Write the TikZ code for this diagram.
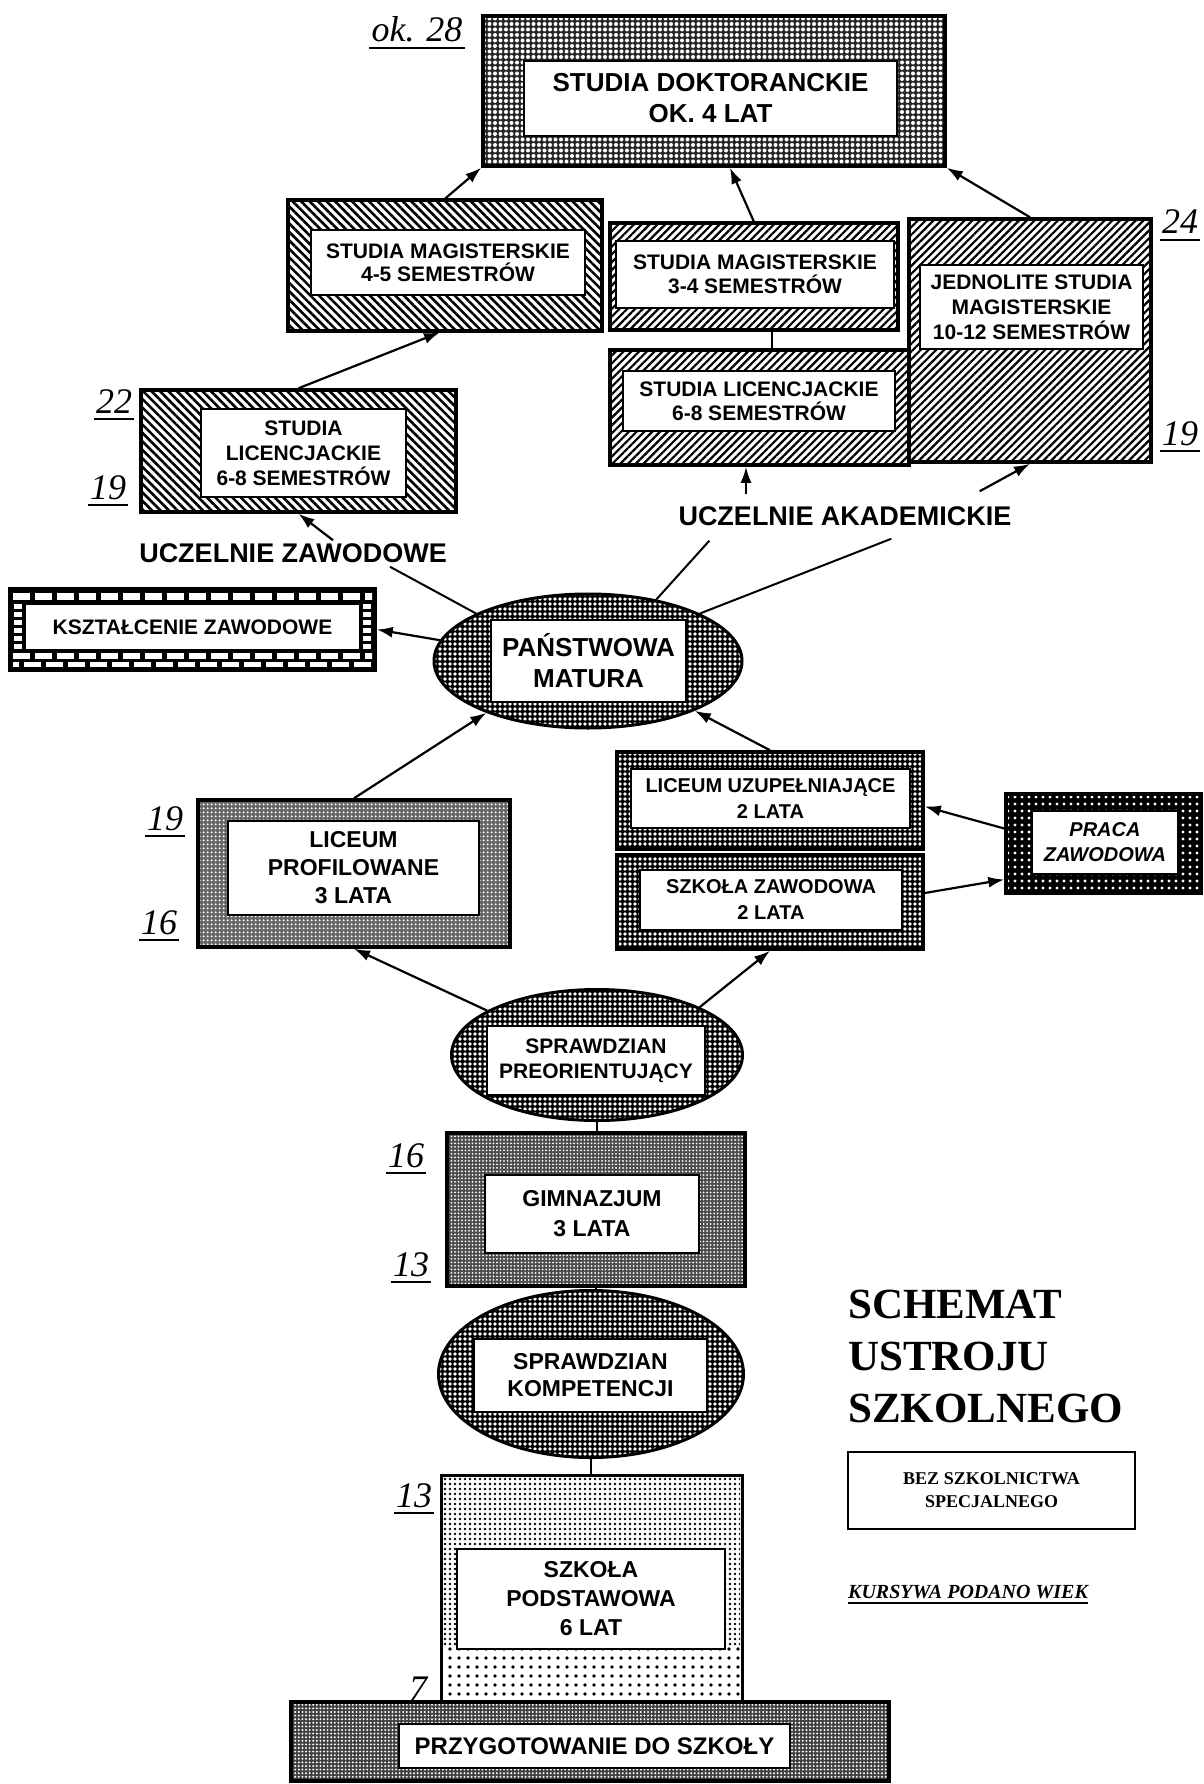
\documentclass[tikz,border=0pt]{standalone}
\usepackage{fontspec}
\setmainfont{Liberation Serif}
\newfontfamily\sansf{Liberation Sans}
\usetikzlibrary{shapes.geometric,patterns.meta,arrows.meta,calc}
\newcommand\bfs[2]{\sansf\bfseries\fontsize{#1}{#2}\selectfont}
\tikzset{
  frame/.style={rectangle, draw=black, line width=3.5pt, inner sep=0pt},
  ell/.style={ellipse, draw=black, line width=3pt, inner sep=0pt},
  inbox/.style={rectangle, draw=black, line width=1.2pt, fill=white, inner sep=0pt, align=center},
  meshA/.style={preaction={fill=black}, pattern={Dots[distance=5pt,radius=1.8pt]}, pattern color=white},
  meshDok/.style={preaction={fill=black!85}, pattern={Dots[distance=5.5pt,radius=2pt]}, pattern color=white},
  meshGray/.style={preaction={fill=black!60}, pattern={Dots[distance=4pt,radius=1.3pt]}, pattern color=white},
  meshGim/.style={preaction={fill=black!70}, pattern={Dots[distance=3.5pt,radius=1pt]}, pattern color=white},
  meshPraca/.style={preaction={fill=black}, pattern={Dots[distance=7pt,radius=1.6pt]}, pattern color=white},
  meshPrz/.style={preaction={fill=black!75}, pattern={Dots[distance=3.6pt,radius=1.1pt]}, pattern color=white},
  hatchNW/.style={pattern={Lines[angle=-45,distance=6pt,line width=2.6pt]}, pattern color=black},
  hatchNE/.style={pattern={Lines[angle=45,distance=5.5pt,line width=2.2pt]}, pattern color=black},
  arr/.style={line width=2.2pt, -{Latex[length=16pt,width=11pt]}},
  con/.style={line width=2pt},
  lab/.style={inner sep=0pt, font=\bfs{27}{30}},
  age/.style={inner sep=0pt, anchor=base, font=\itshape\fontsize{36}{40}\selectfont},
  ul/.style={line width=2.5pt},
}
\newcommand\agelab[4]{\node[age] (#1) at (#2,#3) {#4};
  \draw[ul] ($(#1.base west)+(-2,6)$) -- ($(#1.base east)+(2,6)$);}
\begin{document}
\begin{tikzpicture}[x=1pt,y=-1pt]
\fill[white] (0,0) rectangle (1203,1784);
\useasboundingbox (0,0) rectangle (1203,1784);

% ---- doctoral
\node[frame, meshDok, minimum width=462pt, minimum height=150pt] (dok) at (714,91) {};
\node[inbox, minimum width=373pt, minimum height=75pt, font=\bfs{26}{31}] (dokI) at (710.5,98.5) {STUDIA DOKTORANCKIE\\OK. 4 LAT};

% ---- master 4-5
\node[frame, hatchNW, minimum width=314pt, minimum height=131pt] (mag45) at (445,265.5) {};
\node[inbox, minimum width=274pt, minimum height=65pt, font=\bfs{21}{23}] (mag45I) at (448,262.5) {STUDIA MAGISTERSKIE\\4-5 SEMESTRÓW};

% ---- master 3-4
\node[frame, hatchNE, minimum width=288pt, minimum height=107pt] (mag34) at (754,276.5) {};
\node[inbox, minimum width=278pt, minimum height=67pt, font=\bfs{21}{24}] (mag34I) at (755,274.5) {STUDIA MAGISTERSKIE\\3-4 SEMESTRÓW};

% ---- jednolite
\node[frame, hatchNE, minimum width=242pt, minimum height=243pt] (jedn) at (1030,340.5) {};
\node[inbox, minimum width=223pt, minimum height=84pt, font=\bfs{21}{25}] (jednI) at (1031.5,307) {JEDNOLITE STUDIA\\MAGISTERSKIE\\10-12 SEMESTRÓW};

% ---- licencjackie right
\node[frame, hatchNE, minimum width=299pt, minimum height=115pt] (licR) at (759.5,407.5) {};
\node[inbox, minimum width=272pt, minimum height=60pt, font=\bfs{21}{24}] (licRI) at (759,401) {STUDIA LICENCJACKIE\\6-8 SEMESTRÓW};

% ---- licencjackie left
\node[frame, hatchNW, minimum width=315pt, minimum height=122pt] (licL) at (298.5,451) {};
\node[inbox, minimum width=205pt, minimum height=88pt, font=\bfs{21}{25}] (licLI) at (303.5,453) {STUDIA\\LICENCJACKIE\\6-8 SEMESTRÓW};

% ---- ksztalcenie zawodowe (bricks)
\node[frame, fill=black, minimum width=365pt, minimum height=81pt] (ksz) at (192.5,629.5) {};
\begin{scope}
  \clip (13,592) rectangle (372,667);
  \foreach \x in {0,22,...,374} {
    \fill[white] (13+\x,593) rectangle (30+\x,600);
    \fill[white] (13+\x,653) rectangle (30+\x,659);
    \fill[white] (2+\x,662) rectangle (19+\x,667);
  }
  \foreach \y in {604,612,...,648} {
    \fill[white] (14,\y) rectangle (22,\y+5);
    \fill[white] (363,\y) rectangle (371,\y+5);
  }
\end{scope}
\node[inbox, minimum width=335pt, minimum height=46pt, font=\bfs{21}{24}] (kszI) at (192.5,627) {KSZTAŁCENIE ZAWODOWE};

% ---- matura
\node[ell, meshA, minimum width=308pt, minimum height=134pt] (mat) at (588,661) {};
\node[inbox, minimum width=195pt, minimum height=82pt, font=\bfs{26}{31}] (matI) at (588.5,661) {PAŃSTWOWA\\MATURA};

% ---- liceum profilowane
\node[frame, meshGray, minimum width=312pt, minimum height=147pt] (licP) at (354,873.5) {};
\node[inbox, minimum width=251pt, minimum height=94pt, font=\bfs{23}{28}] (licPI) at (353.5,868) {LICEUM\\PROFILOWANE\\3 LATA};

% ---- liceum uzupelniajace
\node[frame, meshA, minimum width=306pt, minimum height=97pt] (licU) at (770,800.5) {};
\node[inbox, minimum width=279pt, minimum height=59pt, font=\bfs{20}{26}] (licUI) at (770.5,798.5) {LICEUM UZUPEŁNIAJĄCE\\2 LATA};

% ---- szkola zawodowa
\node[frame, meshA, minimum width=306pt, minimum height=94pt] (szkZ) at (770,902) {};
\node[inbox, minimum width=262pt, minimum height=60pt, font=\bfs{20}{26}] (szkZI) at (771,900) {SZKOŁA ZAWODOWA\\2 LATA};

% ---- praca zawodowa
\node[frame, meshPraca, minimum width=195pt, minimum height=99pt] (praca) at (1103.5,843.5) {};
\node[inbox, minimum width=146pt, minimum height=63pt, font={\bfs{20}{25}\itshape}] (pracaI) at (1105,842.5) {PRACA\\ZAWODOWA};

% ---- sprawdzian preorientujacy
\node[ell, meshA, minimum width=291pt, minimum height=131pt] (spP) at (597,1055) {};
\node[inbox, minimum width=218pt, minimum height=69pt, font=\bfs{21}{25}] (spPI) at (596,1060.5) {SPRAWDZIAN\\PREORIENTUJĄCY};

% ---- gimnazjum
\node[frame, meshGim, minimum width=298pt, minimum height=153pt] (gim) at (596,1209.5) {};
\node[inbox, minimum width=214pt, minimum height=78pt, font=\bfs{23}{30}] (gimI) at (592,1214) {GIMNAZJUM\\3 LATA};

% ---- sprawdzian kompetencji
\node[ell, meshA, minimum width=305pt, minimum height=167pt] (spK) at (591,1374) {};
\node[inbox, minimum width=233pt, minimum height=73pt, font=\bfs{23}{27}] (spKI) at (590.5,1375.5) {SPRAWDZIAN\\KOMPETENCJI};

% ---- szkola podstawowa
\path[pattern={Dots[distance=5pt,radius=1.3pt]}, pattern color=black] (443,1477) rectangle (740,1645);
\path[pattern={Dots[distance=9pt,radius=1.9pt]}, pattern color=black] (443,1645) rectangle (740,1706);
\node[frame, line width=3pt, minimum width=301pt, minimum height=233pt] (szP) at (591.5,1591.5) {};
\node[inbox, minimum width=268pt, minimum height=100pt, font=\bfs{23}{29}] (szPI) at (591,1599) {SZKOŁA\\PODSTAWOWA\\6 LAT};

% ---- przygotowanie
\node[frame, meshPrz, minimum width=598pt, minimum height=79pt] (prz) at (590,1741.5) {};
\node[inbox, minimum width=391pt, minimum height=44pt, font=\bfs{24}{28}] (przI) at (594.5,1746) {PRZYGOTOWANIE DO SZKOŁY};

% ---- labels
\node[lab] (ua) at (845,516) {UCZELNIE AKADEMICKIE};
\node[lab] (uz) at (293,553) {UCZELNIE ZAWODOWE};

% ---- connectors
\draw[arr] (mag45.north) -- (dok.south west);
\draw[arr] (mag34.north) -- ([xshift=16pt]dok.south);
\draw[arr] (jedn.north) -- (dok.south east);
\draw[arr] (licL.north) -- ([xshift=-5pt]mag45.south);
\draw[con] ([xshift=18pt]mag34.south) -- ([xshift=18pt]mag34.south |- licR.north);

\draw[con] (mat.42) -- ($(ua.south west)+(31,15)$);
\draw[con] (mat.23) -- ($(ua.south west)+(213,13)$);
\coordinate (uaL) at ([xshift=-99pt,yshift=12pt]ua.north);
\draw[arr] (uaL) -- (uaL |- licR.south);
\draw[arr] ([xshift=-32pt,yshift=15pt]ua.north east) -- (jedn.south);

\draw[arr] ([xshift=40pt,yshift=3pt]uz.north) -- (licL.south);
\draw[con] (mat.157) -- ([xshift=97pt,yshift=-4pt]uz.south);

\draw[arr] (mat.172) -- (ksz.east);
\draw[arr] (licP.north) -- (mat.207);
\draw[arr] (licU.north) -- (mat.-25);
\draw[arr] ([yshift=15pt]praca.west) -- ([yshift=-6pt]licU.east);
\draw[arr] ([yshift=9pt]szkZ.east) -- ([yshift=-36pt]praca.west);
\draw[arr] (spP.158) -- (licP.south);
\draw[arr] (spP.25) -- (szkZ.south);
\draw[con] (spP.south) -- (spP.south |- gim.north);
\draw[con] (gim.south) -- (gim.south |- spK.north);
\draw[con] (spK.south) -- (spK.south |- szP.north);

% ---- ages
\agelab{a28}{417}{42}{ok. 28}
\agelab{a24}{1180}{234}{24}
\agelab{a19r}{1180}{445}{19}
\agelab{a22}{114}{413}{22}
\agelab{a19l}{108}{499}{19}
\agelab{a19p}{165}{830}{19}
\agelab{a16p}{159}{934}{16}
\agelab{a16g}{406}{1167}{16}
\agelab{a13g}{411}{1276}{13}
\agelab{a13s}{414}{1507}{13}
\node[age] (a7) at (418,1700) {7};

% ---- legend
\node[anchor=north west, align=left, inner sep=0pt, font=\bfseries\fontsize{43}{52}\selectfont] (title) at (848,1290) {SCHEMAT\\USTROJU\\SZKOLNEGO};
\node[rectangle, draw=black, line width=2pt, minimum width=287pt, minimum height=77pt, align=center, inner sep=0pt, font=\bfseries\fontsize{18}{23}\selectfont] (bez) at (991.5,1490.5) {BEZ SZKOLNICTWA\\SPECJALNEGO};
\node[anchor=base west, inner sep=0pt, font=\bfseries\itshape\fontsize{20}{24}\selectfont] (kur) at (848,1598) {KURSYWA PODANO WIEK};
\draw[line width=1.5pt] ($(kur.base west)+(0,5)$) -- ($(kur.base east)+(0,5)$);
\end{tikzpicture}
\end{document}
